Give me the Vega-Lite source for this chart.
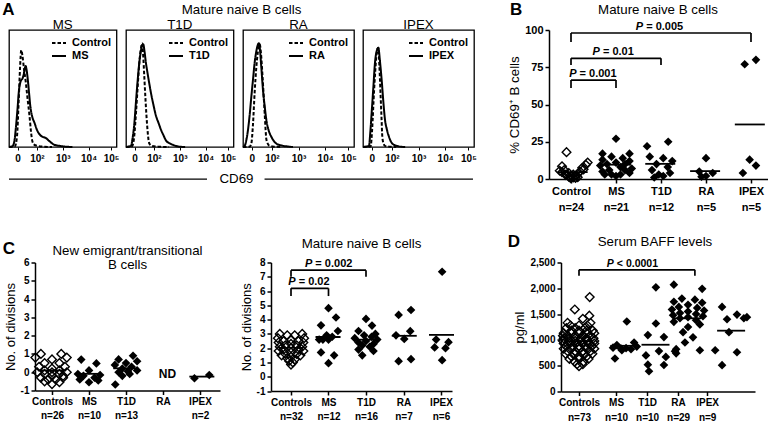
{
"$schema": "https://vega.github.io/schema/vega-lite/v6.json",
"padding": {"left": 1, "top": 0, "right": 0, "bottom": 0},
"background": "white",
"config": {
  "font": "Liberation Sans",
  "view": {"stroke": null},
  "axis": {"grid": false, "domainColor": "black", "domainWidth": 1.5, "tickColor": "black", "tickWidth": 1.5, "tickSize": 4, "labelColor": "black", "labelFont": "Liberation Sans", "labelFontWeight": "bold", "labelFontSize": 10, "titleColor": "black", "titleFont": "Liberation Sans", "titleFontWeight": "normal", "titleFontSize": 13, "labelPadding": 2, "titlePadding": 3, "labelFlush": false, "labelOverlap": false},
  "text": {"font": "Liberation Sans", "color": "black"},
  "tick": {"opacity": 1},
  "legend": {"labelFont": "Liberation Sans"}
},
"datasets": {
  "hist": [
    {"p":"MS","s":"Control","x":0,"y":0},{"p":"MS","s":"Control","x":5.5,"y":0.5},{"p":"MS","s":"Control","x":7.5,"y":10},{"p":"MS","s":"Control","x":9,"y":40},{"p":"MS","s":"Control","x":10.3,"y":70},{"p":"MS","s":"Control","x":11.4,"y":85},{"p":"MS","s":"Control","x":12.5,"y":80},{"p":"MS","s":"Control","x":14,"y":68},{"p":"MS","s":"Control","x":15.6,"y":57},{"p":"MS","s":"Control","x":17.3,"y":42},{"p":"MS","s":"Control","x":19,"y":28},{"p":"MS","s":"Control","x":20.5,"y":13},{"p":"MS","s":"Control","x":21.5,"y":6},{"p":"MS","s":"Control","x":23,"y":2.5},{"p":"MS","s":"Control","x":26,"y":1},{"p":"MS","s":"Control","x":32,"y":0.3},{"p":"MS","s":"Control","x":40,"y":0},
    {"p":"MS","s":"MS","x":0,"y":0},{"p":"MS","s":"MS","x":3,"y":0.5},{"p":"MS","s":"MS","x":5,"y":5},{"p":"MS","s":"MS","x":6.2,"y":15},{"p":"MS","s":"MS","x":7.8,"y":32},{"p":"MS","s":"MS","x":9.3,"y":50},{"p":"MS","s":"MS","x":11,"y":58},{"p":"MS","s":"MS","x":12.5,"y":60},{"p":"MS","s":"MS","x":13.8,"y":64},{"p":"MS","s":"MS","x":15,"y":70},{"p":"MS","s":"MS","x":15.5,"y":71},{"p":"MS","s":"MS","x":16.3,"y":68},{"p":"MS","s":"MS","x":17.6,"y":58},{"p":"MS","s":"MS","x":18.8,"y":46},{"p":"MS","s":"MS","x":19.8,"y":36},{"p":"MS","s":"MS","x":21.5,"y":27},{"p":"MS","s":"MS","x":23.8,"y":21},{"p":"MS","s":"MS","x":26,"y":15},{"p":"MS","s":"MS","x":28.5,"y":11},{"p":"MS","s":"MS","x":31,"y":9},{"p":"MS","s":"MS","x":34,"y":8},{"p":"MS","s":"MS","x":37.8,"y":5},{"p":"MS","s":"MS","x":42,"y":2},{"p":"MS","s":"MS","x":47,"y":1},{"p":"MS","s":"MS","x":51,"y":0.5},{"p":"MS","s":"MS","x":59,"y":0},
    {"p":"T1D","s":"Control","x":0,"y":0},{"p":"T1D","s":"Control","x":5.6,"y":0.5},{"p":"T1D","s":"Control","x":7.5,"y":8},{"p":"T1D","s":"Control","x":9.3,"y":30},{"p":"T1D","s":"Control","x":11,"y":55},{"p":"T1D","s":"Control","x":12.4,"y":74},{"p":"T1D","s":"Control","x":14,"y":87},{"p":"T1D","s":"Control","x":14.9,"y":91},{"p":"T1D","s":"Control","x":16,"y":80},{"p":"T1D","s":"Control","x":17,"y":62},{"p":"T1D","s":"Control","x":18,"y":44},{"p":"T1D","s":"Control","x":19,"y":28},{"p":"T1D","s":"Control","x":20,"y":15},{"p":"T1D","s":"Control","x":21,"y":6},{"p":"T1D","s":"Control","x":21.7,"y":3},{"p":"T1D","s":"Control","x":24,"y":1},{"p":"T1D","s":"Control","x":30,"y":0.3},{"p":"T1D","s":"Control","x":40,"y":0},
    {"p":"T1D","s":"T1D","x":0,"y":0},{"p":"T1D","s":"T1D","x":4.7,"y":1},{"p":"T1D","s":"T1D","x":6,"y":7},{"p":"T1D","s":"T1D","x":7.8,"y":21},{"p":"T1D","s":"T1D","x":9.3,"y":40},{"p":"T1D","s":"T1D","x":10.9,"y":59},{"p":"T1D","s":"T1D","x":12.5,"y":75},{"p":"T1D","s":"T1D","x":14,"y":85},{"p":"T1D","s":"T1D","x":15,"y":89},{"p":"T1D","s":"T1D","x":16.1,"y":90},{"p":"T1D","s":"T1D","x":17.2,"y":84},{"p":"T1D","s":"T1D","x":18.5,"y":74},{"p":"T1D","s":"T1D","x":20,"y":65},{"p":"T1D","s":"T1D","x":21.6,"y":56},{"p":"T1D","s":"T1D","x":23.3,"y":47},{"p":"T1D","s":"T1D","x":25.5,"y":37},{"p":"T1D","s":"T1D","x":28,"y":27},{"p":"T1D","s":"T1D","x":30.3,"y":21},{"p":"T1D","s":"T1D","x":32.6,"y":15},{"p":"T1D","s":"T1D","x":35,"y":10},{"p":"T1D","s":"T1D","x":37,"y":6},{"p":"T1D","s":"T1D","x":40,"y":3.5},{"p":"T1D","s":"T1D","x":43.4,"y":2},{"p":"T1D","s":"T1D","x":46,"y":1},{"p":"T1D","s":"T1D","x":49.6,"y":0.3},{"p":"T1D","s":"T1D","x":55,"y":0},
    {"p":"RA","s":"Control","x":0,"y":0},{"p":"RA","s":"Control","x":6,"y":0.3},{"p":"RA","s":"Control","x":7.5,"y":3},{"p":"RA","s":"Control","x":9,"y":20},{"p":"RA","s":"Control","x":10.5,"y":48},{"p":"RA","s":"Control","x":12,"y":70},{"p":"RA","s":"Control","x":13.5,"y":84},{"p":"RA","s":"Control","x":15.1,"y":90},{"p":"RA","s":"Control","x":16.2,"y":82},{"p":"RA","s":"Control","x":17.4,"y":65},{"p":"RA","s":"Control","x":18.5,"y":47},{"p":"RA","s":"Control","x":19.5,"y":30},{"p":"RA","s":"Control","x":20.3,"y":16},{"p":"RA","s":"Control","x":21,"y":7},{"p":"RA","s":"Control","x":22.5,"y":2.5},{"p":"RA","s":"Control","x":24,"y":1},{"p":"RA","s":"Control","x":28,"y":0.3},{"p":"RA","s":"Control","x":35,"y":0},
    {"p":"RA","s":"RA","x":0,"y":0},{"p":"RA","s":"RA","x":1.5,"y":1},{"p":"RA","s":"RA","x":3,"y":6},{"p":"RA","s":"RA","x":4.5,"y":15},{"p":"RA","s":"RA","x":6,"y":28},{"p":"RA","s":"RA","x":7.5,"y":44},{"p":"RA","s":"RA","x":9,"y":59},{"p":"RA","s":"RA","x":10.5,"y":74},{"p":"RA","s":"RA","x":12,"y":84},{"p":"RA","s":"RA","x":13.5,"y":90},{"p":"RA","s":"RA","x":14.3,"y":91},{"p":"RA","s":"RA","x":15.1,"y":87},{"p":"RA","s":"RA","x":16.5,"y":70},{"p":"RA","s":"RA","x":18,"y":50},{"p":"RA","s":"RA","x":19.5,"y":36},{"p":"RA","s":"RA","x":21,"y":24},{"p":"RA","s":"RA","x":23,"y":15},{"p":"RA","s":"RA","x":25.5,"y":9},{"p":"RA","s":"RA","x":28,"y":5},{"p":"RA","s":"RA","x":30,"y":3},{"p":"RA","s":"RA","x":33,"y":1.8},{"p":"RA","s":"RA","x":36,"y":1},{"p":"RA","s":"RA","x":40,"y":0.5},{"p":"RA","s":"RA","x":45,"y":0},
    {"p":"IPEX","s":"Control","x":0,"y":0},{"p":"IPEX","s":"Control","x":6.9,"y":0.5},{"p":"IPEX","s":"Control","x":8.2,"y":15},{"p":"IPEX","s":"Control","x":9.9,"y":48},{"p":"IPEX","s":"Control","x":11,"y":66},{"p":"IPEX","s":"Control","x":12,"y":79},{"p":"IPEX","s":"Control","x":13,"y":86},{"p":"IPEX","s":"Control","x":13.8,"y":87},{"p":"IPEX","s":"Control","x":14.8,"y":70},{"p":"IPEX","s":"Control","x":15.9,"y":44},{"p":"IPEX","s":"Control","x":16.7,"y":25},{"p":"IPEX","s":"Control","x":17.4,"y":9},{"p":"IPEX","s":"Control","x":18.5,"y":3},{"p":"IPEX","s":"Control","x":19.8,"y":1},{"p":"IPEX","s":"Control","x":24,"y":0.3},{"p":"IPEX","s":"Control","x":30,"y":0},
    {"p":"IPEX","s":"IPEX","x":0,"y":0},{"p":"IPEX","s":"IPEX","x":5.4,"y":1},{"p":"IPEX","s":"IPEX","x":6.5,"y":12},{"p":"IPEX","s":"IPEX","x":7.8,"y":30},{"p":"IPEX","s":"IPEX","x":9.3,"y":52},{"p":"IPEX","s":"IPEX","x":10.8,"y":74},{"p":"IPEX","s":"IPEX","x":12.3,"y":84},{"p":"IPEX","s":"IPEX","x":13.8,"y":87},{"p":"IPEX","s":"IPEX","x":15.3,"y":75},{"p":"IPEX","s":"IPEX","x":16.8,"y":59},{"p":"IPEX","s":"IPEX","x":18.3,"y":40},{"p":"IPEX","s":"IPEX","x":19.8,"y":24},{"p":"IPEX","s":"IPEX","x":21.6,"y":15},{"p":"IPEX","s":"IPEX","x":23.4,"y":9},{"p":"IPEX","s":"IPEX","x":25,"y":5},{"p":"IPEX","s":"IPEX","x":26.4,"y":3},{"p":"IPEX","s":"IPEX","x":29,"y":1.5},{"p":"IPEX","s":"IPEX","x":32.4,"y":0.5},{"p":"IPEX","s":"IPEX","x":38,"y":0}
  ],
  "B": [
    {"g":"Control","x":0.9,"v":18},{"g":"Control","x":0.8,"v":8.5},{"g":"Control","x":0.85,"v":6},{"g":"Control","x":0.95,"v":4},{"g":"Control","x":1.0,"v":2},{"g":"Control","x":1.05,"v":1},{"g":"Control","x":1.0,"v":0.5},{"g":"Control","x":1.12,"v":2.5},{"g":"Control","x":1.2,"v":5},{"g":"Control","x":1.25,"v":7.5},{"g":"Control","x":1.33,"v":9.5},{"g":"Control","x":1.37,"v":11},{"g":"Control","x":0.9,"v":3},{"g":"Control","x":0.95,"v":1.5},{"g":"Control","x":1.1,"v":0.8},{"g":"Control","x":1.15,"v":3.5},{"g":"Control","x":0.8,"v":4.5},{"g":"Control","x":1.08,"v":2},{"g":"Control","x":0.98,"v":1},{"g":"Control","x":1.28,"v":6.5},{"g":"Control","x":0.75,"v":5.5},{"g":"Control","x":1.05,"v":3},{"g":"Control","x":1.15,"v":1.2},{"g":"Control","x":0.88,"v":2.8},
    {"g":"MS","x":2.0,"v":27},{"g":"MS","x":1.7,"v":17},{"g":"MS","x":2.3,"v":17},{"g":"MS","x":1.9,"v":15},{"g":"MS","x":2.15,"v":14},{"g":"MS","x":1.7,"v":13},{"g":"MS","x":2.3,"v":12},{"g":"MS","x":2.0,"v":11},{"g":"MS","x":1.8,"v":10},{"g":"MS","x":2.2,"v":10},{"g":"MS","x":1.65,"v":9},{"g":"MS","x":2.1,"v":8},{"g":"MS","x":2.35,"v":7},{"g":"MS","x":1.85,"v":6},{"g":"MS","x":2.2,"v":6},{"g":"MS","x":1.7,"v":5},{"g":"MS","x":2.3,"v":4},{"g":"MS","x":1.9,"v":3},{"g":"MS","x":2.1,"v":3},{"g":"MS","x":2.0,"v":2},{"g":"MS","x":1.75,"v":3},
    {"g":"T1D","x":2.69,"v":22},{"g":"T1D","x":3.16,"v":25},{"g":"T1D","x":2.75,"v":15},{"g":"T1D","x":3.05,"v":14},{"g":"T1D","x":3.25,"v":12},{"g":"T1D","x":2.9,"v":10},{"g":"T1D","x":3.15,"v":8},{"g":"T1D","x":2.8,"v":6},{"g":"T1D","x":3.2,"v":4},{"g":"T1D","x":2.95,"v":3},{"g":"T1D","x":3.05,"v":2},{"g":"T1D","x":2.85,"v":1},
    {"g":"RA","x":4.0,"v":14},{"g":"RA","x":3.85,"v":5},{"g":"RA","x":4.15,"v":4},{"g":"RA","x":4.0,"v":2},{"g":"RA","x":3.9,"v":1.5},
    {"g":"IPEX","x":4.86,"v":77},{"g":"IPEX","x":5.11,"v":80},{"g":"IPEX","x":4.97,"v":13},{"g":"IPEX","x":5.11,"v":9},{"g":"IPEX","x":4.82,"v":4}
  ],
  "Bbr": [
    {"x":1,"xe":1,"v":61,"ve":66.4},{"x":1,"xe":2,"v":66.4,"ve":66.4},{"x":2,"xe":2,"v":66.4,"ve":61},
    {"x":1,"xe":1,"v":76.5,"ve":81},{"x":1,"xe":3,"v":81,"ve":81},{"x":3,"xe":3,"v":81,"ve":76.5},
    {"x":1,"xe":1,"v":92,"ve":98},{"x":1,"xe":5,"v":98,"ve":98},{"x":5,"xe":5,"v":98,"ve":92}
  ],
  "Blab": [{"x":1.19,"v":70.5,"t":"= 0.001"},{"x":1.71,"v":85,"t":"= 0.01"},{"x":2.67,"v":102,"t":"= 0.005"}],
  "CL": [
    {"g":"Controls","x":0.7,"v":1.0},{"g":"Controls","x":1.25,"v":1.0},{"g":"Controls","x":0.55,"v":0.8},{"g":"Controls","x":1.4,"v":0.8},{"g":"Controls","x":1.0,"v":0.7},{"g":"Controls","x":0.8,"v":0.5},{"g":"Controls","x":1.2,"v":0.5},{"g":"Controls","x":0.65,"v":0.3},{"g":"Controls","x":1.35,"v":0.3},{"g":"Controls","x":1.0,"v":0.2},{"g":"Controls","x":0.8,"v":0.1},{"g":"Controls","x":1.2,"v":0.1},{"g":"Controls","x":0.6,"v":0},{"g":"Controls","x":1.4,"v":0},{"g":"Controls","x":1.0,"v":0},{"g":"Controls","x":0.8,"v":-0.1},{"g":"Controls","x":1.2,"v":-0.1},{"g":"Controls","x":1.0,"v":-0.2},{"g":"Controls","x":0.7,"v":-0.3},{"g":"Controls","x":1.3,"v":-0.3},{"g":"Controls","x":0.9,"v":-0.4},{"g":"Controls","x":1.1,"v":-0.4},{"g":"Controls","x":0.8,"v":-0.5},{"g":"Controls","x":1.2,"v":-0.55},{"g":"Controls","x":1.0,"v":-0.65},{"g":"Controls","x":1.3,"v":-0.2},
    {"g":"MS","x":1.79,"v":0.69},{"g":"MS","x":2.2,"v":0.48},{"g":"MS","x":2.0,"v":0.1},{"g":"MS","x":1.7,"v":-0.1},{"g":"MS","x":2.3,"v":-0.15},{"g":"MS","x":1.85,"v":-0.2},{"g":"MS","x":2.15,"v":-0.3},{"g":"MS","x":1.75,"v":-0.4},{"g":"MS","x":2.25,"v":-0.45},{"g":"MS","x":2.0,"v":-0.55},
    {"g":"T1D","x":3.19,"v":0.9},{"g":"T1D","x":2.71,"v":-0.67},{"g":"T1D","x":2.8,"v":0.7},{"g":"T1D","x":3.3,"v":0.6},{"g":"T1D","x":3.0,"v":0.5},{"g":"T1D","x":2.7,"v":0.4},{"g":"T1D","x":3.15,"v":0.3},{"g":"T1D","x":2.9,"v":0.2},{"g":"T1D","x":3.3,"v":0.1},{"g":"T1D","x":2.8,"v":0},{"g":"T1D","x":3.1,"v":-0.1},{"g":"T1D","x":2.9,"v":-0.2},{"g":"T1D","x":3.05,"v":0.05},
    {"g":"IPEX","x":4.85,"v":-0.33},{"g":"IPEX","x":5.25,"v":-0.15}
  ],
  "CR": [
    {"g":"Controls","x":0.7,"v":3.0},{"g":"Controls","x":1.3,"v":3.0},{"g":"Controls","x":0.9,"v":2.9},{"g":"Controls","x":1.1,"v":2.9},{"g":"Controls","x":0.65,"v":2.7},{"g":"Controls","x":1.35,"v":2.7},{"g":"Controls","x":1.0,"v":2.6},{"g":"Controls","x":0.8,"v":2.5},{"g":"Controls","x":1.2,"v":2.5},{"g":"Controls","x":0.67,"v":2.4},{"g":"Controls","x":1.33,"v":2.4},{"g":"Controls","x":1.0,"v":2.3},{"g":"Controls","x":0.85,"v":2.2},{"g":"Controls","x":1.15,"v":2.2},{"g":"Controls","x":0.7,"v":2.1},{"g":"Controls","x":1.3,"v":2.1},{"g":"Controls","x":1.0,"v":2.0},{"g":"Controls","x":0.8,"v":1.9},{"g":"Controls","x":1.2,"v":1.9},{"g":"Controls","x":0.67,"v":1.8},{"g":"Controls","x":1.33,"v":1.8},{"g":"Controls","x":1.0,"v":1.7},{"g":"Controls","x":0.85,"v":1.6},{"g":"Controls","x":1.15,"v":1.6},{"g":"Controls","x":0.75,"v":1.5},{"g":"Controls","x":1.25,"v":1.5},{"g":"Controls","x":1.0,"v":1.4},{"g":"Controls","x":0.9,"v":1.3},{"g":"Controls","x":1.1,"v":1.2},{"g":"Controls","x":0.95,"v":1.1},{"g":"Controls","x":1.05,"v":1.0},{"g":"Controls","x":1.0,"v":0.85},
    {"g":"MS","x":2.0,"v":4.8},{"g":"MS","x":2.2,"v":4.15},{"g":"MS","x":1.8,"v":3.6},{"g":"MS","x":2.25,"v":3.2},{"g":"MS","x":1.95,"v":2.9},{"g":"MS","x":2.1,"v":2.8},{"g":"MS","x":1.75,"v":2.6},{"g":"MS","x":2.0,"v":2.6},{"g":"MS","x":1.85,"v":2.6},{"g":"MS","x":1.8,"v":1.7},{"g":"MS","x":2.15,"v":1.5},{"g":"MS","x":2.0,"v":0.95},
    {"g":"T1D","x":3.0,"v":4.05},{"g":"T1D","x":3.16,"v":3.58},{"g":"T1D","x":2.8,"v":3.2},{"g":"T1D","x":3.25,"v":3.0},{"g":"T1D","x":2.95,"v":2.9},{"g":"T1D","x":3.15,"v":2.8},{"g":"T1D","x":2.7,"v":2.7},{"g":"T1D","x":3.3,"v":2.6},{"g":"T1D","x":3.0,"v":2.5},{"g":"T1D","x":2.8,"v":2.4},{"g":"T1D","x":3.2,"v":2.3},{"g":"T1D","x":2.9,"v":2.2},{"g":"T1D","x":3.1,"v":2.1},{"g":"T1D","x":2.8,"v":1.9},{"g":"T1D","x":3.2,"v":1.8},{"g":"T1D","x":2.9,"v":1.5},
    {"g":"RA","x":3.87,"v":4.33},{"g":"RA","x":4.2,"v":4.67},{"g":"RA","x":4.18,"v":3.19},{"g":"RA","x":4.02,"v":2.65},{"g":"RA","x":3.87,"v":1.09},{"g":"RA","x":4.2,"v":1.23},{"g":"RA","x":3.8,"v":2.9},
    {"g":"IPEX","x":5.03,"v":7.35},{"g":"IPEX","x":5.2,"v":2.42},{"g":"IPEX","x":4.87,"v":2.6},{"g":"IPEX","x":5.12,"v":2.0},{"g":"IPEX","x":4.83,"v":2.05},{"g":"IPEX","x":5.03,"v":1.16}
  ],
  "CRbr": [
    {"x":1,"xe":1,"v":5.65,"ve":6.19},{"x":1,"xe":2,"v":6.19,"ve":6.19},{"x":2,"xe":2,"v":6.19,"ve":5.65},
    {"x":1,"xe":1,"v":7.0,"ve":7.46},{"x":1,"xe":3,"v":7.46,"ve":7.46},{"x":3,"xe":3,"v":7.46,"ve":7.0}
  ],
  "CRlab": [{"x":1.205,"v":6.6,"t":"= 0.02"},{"x":1.65,"v":7.86,"t":"= 0.002"}],
  "D": [
    {"g":"Controls","x":1.28,"v":1830},{"g":"Controls","x":0.89,"v":1590},{"g":"Controls","x":1.27,"v":1470},{"g":"Controls","x":1.1,"v":1410},
    {"g":"Controls","x":0.7,"v":1330},{"g":"Controls","x":1.3,"v":1330},
    {"g":"Controls","x":0.78,"v":1280},{"g":"Controls","x":1.0,"v":1280},{"g":"Controls","x":1.22,"v":1280},
    {"g":"Controls","x":0.67,"v":1230},{"g":"Controls","x":0.9,"v":1230},{"g":"Controls","x":1.15,"v":1230},
    {"g":"Controls","x":0.8,"v":1180},{"g":"Controls","x":1.0,"v":1180},{"g":"Controls","x":1.2,"v":1180},{"g":"Controls","x":1.36,"v":1180},
    {"g":"Controls","x":0.6,"v":1130},{"g":"Controls","x":0.8,"v":1130},{"g":"Controls","x":1.0,"v":1130},{"g":"Controls","x":1.2,"v":1130},{"g":"Controls","x":1.4,"v":1130},
    {"g":"Controls","x":0.7,"v":1080},{"g":"Controls","x":0.9,"v":1080},{"g":"Controls","x":1.1,"v":1080},{"g":"Controls","x":1.3,"v":1080},{"g":"Controls","x":0.58,"v":1080},
    {"g":"Controls","x":0.6,"v":1030},{"g":"Controls","x":0.75,"v":1030},{"g":"Controls","x":0.9,"v":1030},{"g":"Controls","x":1.05,"v":1030},{"g":"Controls","x":1.2,"v":1030},{"g":"Controls","x":1.38,"v":1030},
    {"g":"Controls","x":0.58,"v":980},{"g":"Controls","x":0.74,"v":980},{"g":"Controls","x":0.9,"v":980},{"g":"Controls","x":1.06,"v":980},{"g":"Controls","x":1.22,"v":980},{"g":"Controls","x":1.4,"v":980},
    {"g":"Controls","x":0.6,"v":930},{"g":"Controls","x":0.76,"v":930},{"g":"Controls","x":0.92,"v":930},{"g":"Controls","x":1.08,"v":930},{"g":"Controls","x":1.24,"v":930},{"g":"Controls","x":1.4,"v":930},
    {"g":"Controls","x":0.66,"v":880},{"g":"Controls","x":0.84,"v":880},{"g":"Controls","x":1.0,"v":880},{"g":"Controls","x":1.16,"v":880},{"g":"Controls","x":1.34,"v":880},
    {"g":"Controls","x":0.6,"v":830},{"g":"Controls","x":0.8,"v":830},{"g":"Controls","x":1.0,"v":830},{"g":"Controls","x":1.2,"v":830},{"g":"Controls","x":1.4,"v":830},
    {"g":"Controls","x":0.7,"v":780},{"g":"Controls","x":0.9,"v":780},{"g":"Controls","x":1.1,"v":780},{"g":"Controls","x":1.3,"v":780},
    {"g":"Controls","x":0.65,"v":730},{"g":"Controls","x":0.88,"v":730},{"g":"Controls","x":1.12,"v":730},{"g":"Controls","x":1.35,"v":730},
    {"g":"Controls","x":0.8,"v":680},{"g":"Controls","x":1.0,"v":680},{"g":"Controls","x":1.2,"v":680},
    {"g":"Controls","x":0.75,"v":630},{"g":"Controls","x":1.0,"v":630},{"g":"Controls","x":1.25,"v":630},
    {"g":"Controls","x":0.88,"v":580},{"g":"Controls","x":1.12,"v":580},
    {"g":"Controls","x":0.95,"v":530},{"g":"Controls","x":1.1,"v":530},
    {"g":"Controls","x":1.0,"v":490},
    {"g":"MS","x":2.25,"v":1356},{"g":"MS","x":2.44,"v":950},{"g":"MS","x":1.99,"v":900},{"g":"MS","x":2.51,"v":870},{"g":"MS","x":1.89,"v":850},{"g":"MS","x":2.23,"v":840},{"g":"MS","x":2.1,"v":830},{"g":"MS","x":2.36,"v":820},{"g":"MS","x":2.12,"v":800},{"g":"MS","x":1.94,"v":640},
    {"g":"T1D","x":3.01,"v":2018},{"g":"T1D","x":3.01,"v":1317},{"g":"T1D","x":2.8,"v":1093},{"g":"T1D","x":3.22,"v":1054},{"g":"T1D","x":3.09,"v":784},{"g":"T1D","x":2.8,"v":520},{"g":"T1D","x":3.22,"v":514},{"g":"T1D","x":2.83,"v":392},{"g":"T1D","x":2.75,"v":700},{"g":"T1D","x":3.27,"v":670},
    {"g":"RA","x":3.48,"v":2070},{"g":"RA","x":4.22,"v":1990},{"g":"RA","x":3.69,"v":1800},{"g":"RA","x":4.03,"v":1780},{"g":"RA","x":3.48,"v":1740},{"g":"RA","x":4.22,"v":1720},{"g":"RA","x":3.85,"v":1680},{"g":"RA","x":3.61,"v":1640},{"g":"RA","x":4.09,"v":1620},{"g":"RA","x":3.43,"v":1590},{"g":"RA","x":4.27,"v":1570},{"g":"RA","x":3.85,"v":1550},{"g":"RA","x":3.64,"v":1520},{"g":"RA","x":4.06,"v":1500},{"g":"RA","x":3.46,"v":1480},{"g":"RA","x":4.24,"v":1460},{"g":"RA","x":3.85,"v":1440},{"g":"RA","x":3.64,"v":1420},{"g":"RA","x":4.06,"v":1380},{"g":"RA","x":3.48,"v":1350},{"g":"RA","x":4.16,"v":1300},{"g":"RA","x":3.85,"v":1250},{"g":"RA","x":3.72,"v":1150},{"g":"RA","x":3.98,"v":1050},{"g":"RA","x":3.77,"v":950},{"g":"RA","x":3.54,"v":820},{"g":"RA","x":4.16,"v":800},{"g":"RA","x":3.51,"v":780},{"g":"RA","x":3.54,"v":740},
    {"g":"IPEX","x":4.74,"v":1640},{"g":"IPEX","x":5.13,"v":1490},{"g":"IPEX","x":5.39,"v":1440},{"g":"IPEX","x":4.87,"v":1400},{"g":"IPEX","x":5.31,"v":1420},{"g":"IPEX","x":4.92,"v":1150},{"g":"IPEX","x":4.56,"v":800},{"g":"IPEX","x":5.13,"v":760},{"g":"IPEX","x":4.74,"v":510}
  ],
  "Dbr": [{"x":1,"xe":1,"v":2243,"ve":2359},{"x":1,"xe":4.03,"v":2359,"ve":2359},{"x":4.03,"xe":4.03,"v":2359,"ve":2243}],
  "Dlab": [{"x":1.99,"v":2474,"t":"< 0.0001"}]
},
"spacing": 20.5,
"vconcat": [
  {
    "spacing": 9,
    "bounds": "flush",
    "resolve": {"scale": {"strokeDash": "independent"}, "legend": {"strokeDash": "independent"}},
    "hconcat": [
      {
        "width": 107.5, "height": 117,
        "view": {"stroke": "black", "strokeWidth": 1.3},
        "encoding": {
          "x": {"field": "x", "type": "quantitative", "scale": {"domain": [0, 100], "nice": false}, "axis": {"values": [8, 26, 50, 74, 95], "labelExpr": "datum.value == 8 ? '0' : datum.value == 26 ? '10²' : datum.value == 50 ? '10³' : datum.value == 74 ? '10⁴' : '10⁵'", "domain": false, "tickSize": 3, "tickWidth": 1, "labelFontSize": 10, "labelPadding": 3, "title": null}},
          "y": {"field": "y", "type": "quantitative", "scale": {"domain": [0, 102.6], "nice": false}, "axis": null}
        },
        "layer": [
          {"data": {"name": "hist"}, "transform": [{"filter": "datum.p == 'MS'"}], "mark": {"type": "line", "color": "black", "strokeWidth": 2, "interpolate": "monotone"},
           "encoding": {"strokeDash": {"field": "s", "type": "nominal", "scale": {"domain": ["Control", "MS"], "range": [[3.5, 2], [1, 0]]}, "legend": {"title": null, "orient": "top-right", "offset": 5, "padding": 0, "symbolType": "stroke", "symbolSize": 196, "symbolStrokeWidth": 2, "symbolStrokeColor": "black", "labelFontSize": 11, "labelFontWeight": "bold", "labelColor": "black", "rowPadding": -3, "labelOffset": 5}}}},
          {"data": {"values": [{"x": 50, "y": 106.6, "t": "MS"}, {"x": 216.3, "y": 120.2, "t": "Mature naive B cells"}, {"x": 211.6, "y": -28.1, "t": "CD69"}]}, "mark": {"type": "text", "fontSize": 13.3, "baseline": "middle"}, "encoding": {"text": {"field": "t"}}},
          {"data": {"values": [{"x": -0.47, "y": 120.2, "t": "A"}]}, "mark": {"type": "text", "fontSize": 17, "fontWeight": "bold", "baseline": "middle"}, "encoding": {"text": {"field": "t"}}},
          {"data": {"values": [{"x": 0, "xe": 184.2, "y": -28.1}, {"x": 237.7, "xe": 431.6, "y": -28.1}]}, "mark": {"type": "rule", "color": "black", "strokeWidth": 1.3}, "encoding": {"x2": {"field": "xe"}}}
        ]
      },
      {
        "width": 107.5, "height": 117,
        "view": {"stroke": "black", "strokeWidth": 1.3},
        "encoding": {
          "x": {"field": "x", "type": "quantitative", "scale": {"domain": [0, 100], "nice": false}, "axis": {"values": [8, 26, 50, 74, 95], "labelExpr": "datum.value == 8 ? '0' : datum.value == 26 ? '10²' : datum.value == 50 ? '10³' : datum.value == 74 ? '10⁴' : '10⁵'", "domain": false, "tickSize": 3, "tickWidth": 1, "labelFontSize": 10, "labelPadding": 3, "title": null}},
          "y": {"field": "y", "type": "quantitative", "scale": {"domain": [0, 102.6], "nice": false}, "axis": null}
        },
        "layer": [
          {"data": {"name": "hist"}, "transform": [{"filter": "datum.p == 'T1D'"}], "mark": {"type": "line", "color": "black", "strokeWidth": 2, "interpolate": "monotone"},
           "encoding": {"strokeDash": {"field": "s", "type": "nominal", "scale": {"domain": ["Control", "T1D"], "range": [[3.5, 2], [1, 0]]}, "legend": {"title": null, "orient": "top-right", "offset": 5, "padding": 0, "symbolType": "stroke", "symbolSize": 196, "symbolStrokeWidth": 2, "symbolStrokeColor": "black", "labelFontSize": 11, "labelFontWeight": "bold", "labelColor": "black", "rowPadding": -3, "labelOffset": 5}}}},
          {"data": {"values": [{"x": 50, "y": 106.6, "t": "T1D"}]}, "mark": {"type": "text", "fontSize": 13.3, "baseline": "middle"}, "encoding": {"text": {"field": "t"}}}
        ]
      },
      {
        "width": 111, "height": 117,
        "view": {"stroke": "black", "strokeWidth": 1.3},
        "encoding": {
          "x": {"field": "x", "type": "quantitative", "scale": {"domain": [0, 100], "nice": false}, "axis": {"values": [8, 26, 50, 74, 95], "labelExpr": "datum.value == 8 ? '0' : datum.value == 26 ? '10²' : datum.value == 50 ? '10³' : datum.value == 74 ? '10⁴' : '10⁵'", "domain": false, "tickSize": 3, "tickWidth": 1, "labelFontSize": 10, "labelPadding": 3, "title": null}},
          "y": {"field": "y", "type": "quantitative", "scale": {"domain": [0, 102.6], "nice": false}, "axis": null}
        },
        "layer": [
          {"data": {"name": "hist"}, "transform": [{"filter": "datum.p == 'RA'"}], "mark": {"type": "line", "color": "black", "strokeWidth": 2, "interpolate": "monotone"},
           "encoding": {"strokeDash": {"field": "s", "type": "nominal", "scale": {"domain": ["Control", "RA"], "range": [[3.5, 2], [1, 0]]}, "legend": {"title": null, "orient": "top-right", "offset": 5, "padding": 0, "symbolType": "stroke", "symbolSize": 196, "symbolStrokeWidth": 2, "symbolStrokeColor": "black", "labelFontSize": 11, "labelFontWeight": "bold", "labelColor": "black", "rowPadding": -3, "labelOffset": 5}}}},
          {"data": {"values": [{"x": 50, "y": 106.6, "t": "RA"}]}, "mark": {"type": "text", "fontSize": 13.3, "baseline": "middle"}, "encoding": {"text": {"field": "t"}}}
        ]
      },
      {
        "width": 111, "height": 117,
        "view": {"stroke": "black", "strokeWidth": 1.3},
        "encoding": {
          "x": {"field": "x", "type": "quantitative", "scale": {"domain": [0, 100], "nice": false}, "axis": {"values": [8, 26, 50, 74, 95], "labelExpr": "datum.value == 8 ? '0' : datum.value == 26 ? '10²' : datum.value == 50 ? '10³' : datum.value == 74 ? '10⁴' : '10⁵'", "domain": false, "tickSize": 3, "tickWidth": 1, "labelFontSize": 10, "labelPadding": 3, "title": null}},
          "y": {"field": "y", "type": "quantitative", "scale": {"domain": [0, 102.6], "nice": false}, "axis": null}
        },
        "layer": [
          {"data": {"name": "hist"}, "transform": [{"filter": "datum.p == 'IPEX'"}], "mark": {"type": "line", "color": "black", "strokeWidth": 2, "interpolate": "monotone"},
           "encoding": {"strokeDash": {"field": "s", "type": "nominal", "scale": {"domain": ["Control", "IPEX"], "range": [[3.5, 2], [1, 0]]}, "legend": {"title": null, "orient": "top-right", "offset": 5, "padding": 0, "symbolType": "stroke", "symbolSize": 196, "symbolStrokeWidth": 2, "symbolStrokeColor": "black", "labelFontSize": 11, "labelFontWeight": "bold", "labelColor": "black", "rowPadding": -3, "labelOffset": 5}}}},
          {"data": {"values": [{"x": 50, "y": 106.6, "t": "IPEX"}]}, "mark": {"type": "text", "fontSize": 13.3, "baseline": "middle"}, "encoding": {"text": {"field": "t"}}}
        ]
      },
      {"width": 56.5, "height": 1, "data": {"values": [{}]}, "mark": "text", "encoding": {"text": {"value": ""}}},
      {
        "width": 219, "height": 149,
        "encoding": {
          "x": {"field": "x", "type": "quantitative", "scale": {"domain": [0.511, 5.378], "nice": false, "zero": false}, "axis": {"values": [1, 2, 3, 4, 5], "title": null, "labelFontSize": 11, "labelLineHeight": 16, "labelPadding": 2, "labelExpr": "[['Control','n=24'],['MS','n=21'],['T1D','n=12'],['RA','n=5'],['IPEX','n=5']][datum.value-1]"}},
          "y": {"field": "v", "type": "quantitative", "scale": {"domain": [0, 100], "nice": false}, "axis": {"values": [0, 25, 50, 75, 100], "title": "% CD69⁺ B cells", "labelFontSize": 11, "titleFontSize": 13.3}}
        },
        "layer": [
          {"data": {"name": "B"}, "transform": [{"filter": "datum.g == 'Control'"}], "mark": {"type": "point", "shape": "diamond", "filled": false, "size": 75, "strokeWidth": 1.4, "color": "black", "opacity": 1}},
          {"data": {"name": "B"}, "transform": [{"filter": "datum.g != 'Control'"}], "mark": {"type": "point", "shape": "diamond", "filled": true, "size": 75, "color": "black", "opacity": 1}},
          {"data": {"name": "B"}, "transform": [{"aggregate": [{"op": "mean", "field": "x", "as": "x"}, {"op": "mean", "field": "v", "as": "v"}], "groupby": ["g"]}], "mark": {"type": "tick", "orient": "horizontal", "size": 30, "thickness": 1.8, "color": "black", "opacity": 1}},
          {"data": {"name": "Bbr"}, "mark": {"type": "rule", "color": "black", "strokeWidth": 1.7}, "encoding": {"x2": {"field": "xe"}, "y2": {"field": "ve"}}},
          {"data": {"name": "Blab"}, "mark": {"type": "text", "align": "left", "baseline": "middle", "fontWeight": "bold", "fontSize": 11}, "encoding": {"text": {"field": "t"}}},
          {"data": {"name": "Blab"}, "mark": {"type": "text", "align": "right", "baseline": "middle", "fontWeight": "bold", "fontStyle": "italic", "fontSize": 11, "dx": -3}, "encoding": {"text": {"value": "P"}}},
          {"data": {"values": [{"x": 2.933, "v": 113.4, "t": "Mature naive B cells"}]}, "mark": {"type": "text", "fontSize": 13.3, "baseline": "middle"}, "encoding": {"text": {"field": "t"}}},
          {"data": {"values": [{"x": -0.222, "v": 113.4, "t": "B"}]}, "mark": {"type": "text", "fontSize": 17, "fontWeight": "bold", "baseline": "middle"}, "encoding": {"text": {"field": "t"}}}
        ]
      }
    ]
  },
  {
    "spacing": 25,
    "bounds": "flush",
    "hconcat": [
      {"width": 0.5, "height": 1, "data": {"values": [{}]}, "mark": "text", "encoding": {"text": {"value": ""}}},
      {
        "width": 185, "height": 128,
        "encoding": {
          "x": {"field": "x", "type": "quantitative", "scale": {"domain": [0.5405, 5.5405], "nice": false, "zero": false}, "axis": {"values": [1, 2, 3, 4, 5], "title": null, "labelLineHeight": 14, "labelPadding": 2, "labelExpr": "[['Controls','n=26'],['MS','n=10'],['T1D','n=13'],['RA'],['IPEX','n=2']][datum.value-1]"}},
          "y": {"field": "v", "type": "quantitative", "scale": {"domain": [-1, 6], "nice": false, "zero": false}, "axis": {"values": [-1, 0, 1, 2, 3, 4, 5, 6], "labelExpr": "'' + datum.value", "title": "No. of divisions"}}
        },
        "layer": [
          {"data": {"name": "CL"}, "transform": [{"filter": "datum.g == 'Controls'"}], "mark": {"type": "point", "shape": "diamond", "filled": false, "size": 75, "strokeWidth": 1.4, "color": "black", "opacity": 1}},
          {"data": {"name": "CL"}, "transform": [{"filter": "datum.g != 'Controls'"}], "mark": {"type": "point", "shape": "diamond", "filled": true, "size": 75, "color": "black", "opacity": 1}},
          {"data": {"name": "CL"}, "transform": [{"aggregate": [{"op": "mean", "field": "x", "as": "x"}, {"op": "mean", "field": "v", "as": "v"}], "groupby": ["g"]}], "mark": {"type": "tick", "orient": "horizontal", "size": 25, "thickness": 1.8, "color": "black", "opacity": 1}},
          {"data": {"values": [{"x": 4.12, "v": -0.1, "t": "ND"}]}, "mark": {"type": "text", "fontWeight": "bold", "fontSize": 12, "baseline": "middle"}, "encoding": {"text": {"field": "t"}}},
          {"data": {"values": [{"x": 3.0405, "v": 6.63, "t": "New emigrant/transitional"}, {"x": 3.0405, "v": 5.89, "t": "B cells"}]}, "mark": {"type": "text", "fontSize": 13.3, "baseline": "middle"}, "encoding": {"text": {"field": "t"}}},
          {"data": {"values": [{"x": -0.162, "v": 6.738, "t": "C"}]}, "mark": {"type": "text", "fontSize": 17, "fontWeight": "bold", "baseline": "middle"}, "encoding": {"text": {"field": "t"}}}
        ]
      },
      {"width": 1, "height": 1, "data": {"values": [{}]}, "mark": "text", "encoding": {"text": {"value": ""}}},
      {
        "width": 181, "height": 128.5,
        "encoding": {
          "x": {"field": "x", "type": "quantitative", "scale": {"domain": [0.4667, 5.2933], "nice": false, "zero": false}, "axis": {"values": [1, 2, 3, 4, 5], "title": null, "labelLineHeight": 14, "labelPadding": 2, "labelExpr": "[['Controls','n=32'],['MS','n=12'],['T1D','n=16'],['RA','n=7'],['IPEX','n=6']][datum.value-1]"}},
          "y": {"field": "v", "type": "quantitative", "scale": {"domain": [-1, 8], "nice": false, "zero": false}, "axis": {"values": [-1, 0, 1, 2, 3, 4, 5, 6, 7, 8], "labelExpr": "'' + datum.value", "title": "No. of divisions"}}
        },
        "layer": [
          {"data": {"name": "CR"}, "transform": [{"filter": "datum.g == 'Controls'"}], "mark": {"type": "point", "shape": "diamond", "filled": false, "size": 75, "strokeWidth": 1.4, "color": "black", "opacity": 1}},
          {"data": {"name": "CR"}, "transform": [{"filter": "datum.g != 'Controls'"}], "mark": {"type": "point", "shape": "diamond", "filled": true, "size": 75, "color": "black", "opacity": 1}},
          {"data": {"name": "CR"}, "transform": [{"aggregate": [{"op": "mean", "field": "x", "as": "x"}, {"op": "mean", "field": "v", "as": "v"}], "groupby": ["g"]}], "mark": {"type": "tick", "orient": "horizontal", "size": 25, "thickness": 1.8, "color": "black", "opacity": 1}},
          {"data": {"name": "CRbr"}, "mark": {"type": "rule", "color": "black", "strokeWidth": 1.7}, "encoding": {"x2": {"field": "xe"}, "y2": {"field": "ve"}}},
          {"data": {"name": "CRlab"}, "mark": {"type": "text", "align": "left", "baseline": "middle", "fontWeight": "bold", "fontSize": 11}, "encoding": {"text": {"field": "t"}}},
          {"data": {"name": "CRlab"}, "mark": {"type": "text", "align": "right", "baseline": "middle", "fontWeight": "bold", "fontStyle": "italic", "fontSize": 11, "dx": -3}, "encoding": {"text": {"value": "P"}}},
          {"data": {"values": [{"x": 2.88, "v": 9.296, "t": "Mature naive B cells"}]}, "mark": {"type": "text", "fontSize": 13.3, "baseline": "middle"}, "encoding": {"text": {"field": "t"}}}
        ]
      },
      {"width": 59, "height": 1, "data": {"values": [{}]}, "mark": "text", "encoding": {"text": {"value": ""}}},
      {
        "width": 194, "height": 129,
        "encoding": {
          "x": {"field": "x", "type": "quantitative", "scale": {"domain": [0.5294, 5.6013], "nice": false, "zero": false}, "axis": {"values": [1, 1.97, 2.78, 3.59, 4.35], "title": null, "labelLineHeight": 15, "labelPadding": 2, "labelExpr": "datum.value < 1.5 ? ['Controls','n=73'] : datum.value < 2.5 ? ['MS','n=10'] : datum.value < 3.2 ? ['T1D','n=10'] : datum.value < 4 ? ['RA','n=29'] : ['IPEX','n=9']"}},
          "y": {"field": "v", "type": "quantitative", "scale": {"domain": [0, 2500], "nice": false}, "axis": {"values": [0, 500, 1000, 1500, 2000, 2500], "format": ",.0f", "title": "pg/ml"}}
        },
        "layer": [
          {"data": {"name": "D"}, "transform": [{"filter": "datum.g == 'Controls'"}], "mark": {"type": "point", "shape": "diamond", "filled": false, "size": 75, "strokeWidth": 1.4, "color": "black", "opacity": 1}},
          {"data": {"name": "D"}, "transform": [{"filter": "datum.g != 'Controls'"}], "mark": {"type": "point", "shape": "diamond", "filled": true, "size": 75, "color": "black", "opacity": 1}},
          {"data": {"name": "D"}, "transform": [{"aggregate": [{"op": "mean", "field": "x", "as": "x"}, {"op": "mean", "field": "v", "as": "v"}], "groupby": ["g"]}], "mark": {"type": "tick", "orient": "horizontal", "size": 28, "thickness": 1.8, "color": "black", "opacity": 1}},
          {"data": {"name": "Dbr"}, "mark": {"type": "rule", "color": "black", "strokeWidth": 1.7}, "encoding": {"x2": {"field": "xe"}, "y2": {"field": "ve"}}},
          {"data": {"name": "Dlab"}, "mark": {"type": "text", "align": "left", "baseline": "middle", "fontWeight": "bold", "fontSize": 10.5}, "encoding": {"text": {"field": "t"}}},
          {"data": {"name": "Dlab"}, "mark": {"type": "text", "align": "right", "baseline": "middle", "fontWeight": "bold", "fontStyle": "italic", "fontSize": 10.5, "dx": -3}, "encoding": {"text": {"value": "P"}}},
          {"data": {"values": [{"x": 2.987, "v": 2897, "t": "Serum BAFF levels"}]}, "mark": {"type": "text", "fontSize": 13.3, "baseline": "middle"}, "encoding": {"text": {"field": "t"}}},
          {"data": {"values": [{"x": -0.699, "v": 2897, "t": "D"}]}, "mark": {"type": "text", "fontSize": 17, "fontWeight": "bold", "baseline": "middle"}, "encoding": {"text": {"field": "t"}}}
        ]
      }
    ]
  }
]
}
